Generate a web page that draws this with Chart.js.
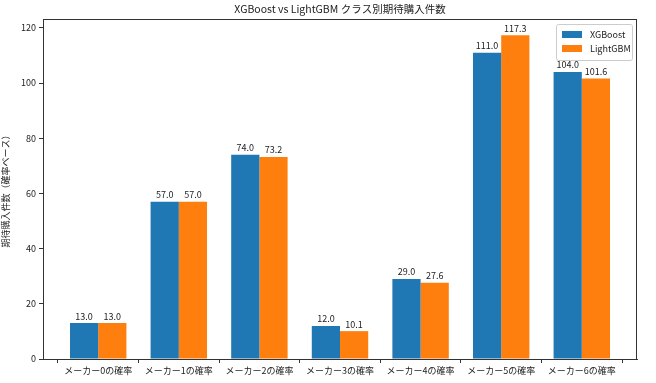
<!DOCTYPE html>
<html><head><meta charset="utf-8">
<script src="https://cdn.jsdelivr.net/npm/chart.js@4"></script>
<style>html,body{margin:0;padding:0;background:#fff}#w{width:656px;height:383px}</style>
</head><body><div id="w"><canvas id="c"></canvas></div>
<script>
const categories = ["メーカー0の確率","メーカー1の確率","メーカー2の確率","メーカー3の確率","メーカー4の確率","メーカー5の確率","メーカー6の確率"];
const xgboost = [13.0, 57.0, 74.0, 12.0, 29.0, 111.0, 104.0];
const lightgbm = [13.0, 57.0, 73.2, 10.1, 27.6, 117.3, 101.6];
const yTicks = [0, 20, 40, 60, 80, 100, 120];
const seriesNames = ["XGBoost", "LightGBM"];
const titleText = "XGBoost vs LightGBM クラス別期待購入件数";
const yTitle = "期待購入件数（確率ベース）";

const FONT = "'Noto Sans CJK JP','DejaVu Sans',sans-serif";

const overlay = {
  id: 'overlay',
  afterDatasetsDraw(chart) {
    const ctx = chart.ctx;
    const ca = chart.chartArea;
    ctx.save();
    // frame
    ctx.strokeStyle = "#333";
    ctx.lineWidth = 1;
    ctx.strokeRect(Math.round(ca.left) + 0.5, Math.round(ca.top) + 0.5, Math.round(ca.right - ca.left) - 1, Math.round(ca.bottom - ca.top));
    ctx.font = "9px " + FONT;
    ctx.fillStyle = "#222";
    ctx.textAlign = "center";
    ctx.textBaseline = "bottom";
    chart.data.datasets.forEach((ds, di) => {
      const meta = chart.getDatasetMeta(di);
      meta.data.forEach((el, i) => {
        ctx.fillText(ds.data[i].y.toFixed(1), el.x, el.y - 2.5);
      });
    });
    // title
    ctx.font = "10.5px " + FONT;
    ctx.textBaseline = "middle";
    ctx.fillText(titleText, (ca.left + ca.right) / 2, 9);
    // legend
    const lw = 76, lh = 36;
    const lx = ca.right - lw - 5, ly = ca.top + 5;
    ctx.fillStyle = "rgba(255,255,255,0.8)";
    ctx.strokeStyle = "#ccc";
    ctx.lineWidth = 1;
    ctx.beginPath();
    ctx.roundRect(lx + 0.5, ly + 0.5, lw, lh, 2);
    ctx.fill(); ctx.stroke();
    ctx.font = "9px " + FONT;
    ctx.textAlign = "left";
    chart.data.datasets.forEach((ds, di) => {
      const yy = ly + 10 + di * 14;
      ctx.fillStyle = ds.backgroundColor;
      ctx.fillRect(lx + 6, yy - 3, 20, 7);
      ctx.fillStyle = "#222";
      ctx.fillText(ds.label, lx + 34, yy + 1);
    });
    ctx.restore();
  }
};

new Chart(document.getElementById('c'), {
  type: 'bar',
  data: {
    datasets: [
      { label: seriesNames[0], data: xgboost.map((v, i) => ({x: i, y: v})), backgroundColor: "#1f77b4" },
      { label: seriesNames[1], data: lightgbm.map((v, i) => ({x: i, y: v})), backgroundColor: "#ff7f0e" }
    ]
  },
  options: {
    responsive: true, maintainAspectRatio: false, animation: false,
    layout: { padding: { left: 0, right: 19, top: 19, bottom: 0 } },
    datasets: { bar: { categoryPercentage: 0.7, barPercentage: 1.0 } },
    plugins: { legend: { display: false }, tooltip: { enabled: false }, title: { display: false } },
    scales: {
      x: {
        type: 'linear', min: -0.685, max: 6.685, offset: false,
        afterBuildTicks(s) { s.ticks = categories.map((c, i) => ({ value: i })); },
        afterFit(s) { s.height = 24; },
        ticks: { autoSkip: false, maxRotation: 0, padding: 2, color: "#222", font: { size: 9, family: FONT },
                 callback: (v) => categories[v] },
        grid: { drawOnChartArea: false, drawTicks: true, tickLength: 4, color: "#333" },
        border: { display: true, color: "#333" }
      },
      y: {
        min: 0, max: 123.2,
        afterBuildTicks(s) { s.ticks = yTicks.map(v => ({ value: v })); },
        afterFit(s) { s.width = 43; },
        ticks: { padding: 3, color: "#222", font: { size: 9, family: FONT } },
        grid: { drawOnChartArea: false, drawTicks: true, tickLength: 4, color: "#333" },
        border: { display: true, color: "#333" },
        title: { display: true, text: yTitle, color: "#222", font: { size: 9, family: FONT }, padding: 0 }
      }
    }
  },
  plugins: [overlay]
});
</script>
</body></html>
